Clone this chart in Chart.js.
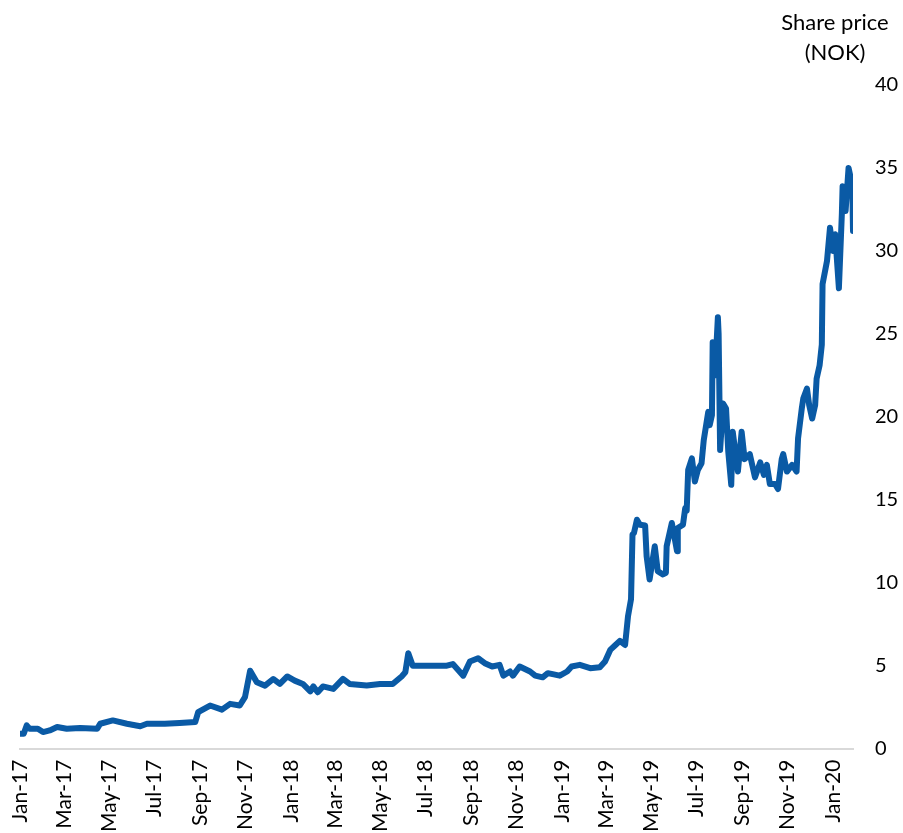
<!DOCTYPE html>
<html>
<head>
<meta charset="utf-8">
<script src="https://cdn.jsdelivr.net/npm/chart.js@4/dist/chart.umd.min.js"></script>
<style>
  html, body { margin: 0; padding: 0; background: #fff; overflow: hidden; }
  #wrap { position: relative; width: 903px; height: 843px; }
</style>
</head>
<body>
<div id="wrap"><canvas id="myChart"></canvas></div>
<script>
// share price
const dates = [
  '2017-01-02','2017-01-06','2017-01-10','2017-01-14','2017-01-25','2017-02-01','2017-02-10','2017-02-20',
  '2017-03-05','2017-03-23','2017-04-15','2017-04-19','2017-05-06','2017-05-25','2017-06-12','2017-06-21',
  '2017-07-15','2017-08-04','2017-08-25','2017-08-29','2017-09-14','2017-09-30','2017-10-11','2017-10-24',
  '2017-10-31','2017-11-07','2017-11-16','2017-11-27','2017-12-08','2017-12-17','2017-12-27',
  '2018-01-06','2018-01-17','2018-01-27','2018-01-31','2018-02-06','2018-02-13','2018-02-27','2018-03-12',
  '2018-03-21','2018-04-13','2018-05-01','2018-05-18','2018-05-30','2018-06-04','2018-06-08','2018-06-14',
  '2018-07-07','2018-07-30','2018-08-07','2018-08-21','2018-08-30','2018-09-10','2018-09-19','2018-09-29',
  '2018-10-09','2018-10-14','2018-10-23','2018-10-27','2018-11-05','2018-11-19','2018-11-26','2018-12-06',
  '2018-12-13','2018-12-29',
  '2019-01-08','2019-01-14','2019-01-25','2019-02-08','2019-02-21','2019-02-28','2019-03-07','2019-03-13',
  '2019-03-20','2019-03-27','2019-03-31','2019-04-04','2019-04-06','2019-04-08','2019-04-12','2019-04-16',
  '2019-04-23','2019-04-25','2019-04-29','2019-05-06','2019-05-10','2019-05-17','2019-05-21','2019-05-22',
  '2019-05-29','2019-06-05','2019-06-06','2019-06-13','2019-06-16','2019-06-18','2019-06-20','2019-06-25',
  '2019-06-29','2019-07-03','2019-07-08','2019-07-11','2019-07-17','2019-07-19','2019-07-22','2019-07-23',
  '2019-07-26','2019-07-30','2019-07-31','2019-08-02','2019-08-06','2019-08-10','2019-08-13','2019-08-17',
  '2019-08-19','2019-08-26','2019-08-31','2019-09-04','2019-09-11','2019-09-18','2019-09-25','2019-09-30',
  '2019-10-04','2019-10-08','2019-10-15','2019-10-19','2019-10-24','2019-10-26','2019-10-31','2019-11-07',
  '2019-11-13','2019-11-15','2019-11-20','2019-11-22','2019-11-27','2019-11-30','2019-12-04','2019-12-08',
  '2019-12-10','2019-12-14','2019-12-17','2019-12-18','2019-12-24','2019-12-28',
  '2020-01-01','2020-01-04','2020-01-09','2020-01-13','2020-01-14','2020-01-18','2020-01-22','2020-01-27',
  '2020-01-28'
];
const prices = [
  0.9, 0.9, 1.4, 1.2, 1.2, 1.0, 1.1, 1.3,
  1.2, 1.25, 1.2, 1.5, 1.7, 1.5, 1.35, 1.5,
  1.5, 1.55, 1.6, 2.2, 2.6, 2.35, 2.7, 2.6,
  3.1, 4.7, 4.0, 3.8, 4.2, 3.9, 4.35,
  4.1, 3.9, 3.45, 3.75, 3.4, 3.75, 3.6, 4.2,
  3.9, 3.8, 3.9, 3.9, 4.35, 4.6, 5.75, 5.0,
  5.0, 5.0, 5.1, 4.4, 5.25, 5.45, 5.15, 4.95,
  5.05, 4.4, 4.65, 4.4, 4.95, 4.65, 4.4, 4.3,
  4.55, 4.4,
  4.65, 4.95, 5.05, 4.85, 4.9, 5.25, 5.95, 6.2,
  6.5, 6.25, 8.0, 9.0, 12.9, 13.0, 13.8, 13.5,
  13.45, 11.6, 10.2, 12.2, 10.7, 10.5, 10.6, 12.2,
  13.6, 11.9, 13.3, 13.5, 14.5, 14.35, 16.8, 17.5,
  16.1, 16.8, 17.2, 18.6, 20.3, 19.5, 20.1, 24.5,
  22.5, 26.0, 25.0, 18.0, 20.8, 20.5, 17.9, 15.9,
  19.1, 16.7, 19.1, 17.45, 17.75, 16.35, 17.25, 16.5,
  17.1, 15.95, 15.95, 15.65, 17.45, 17.75, 16.7, 17.1,
  16.7, 18.7, 20.5, 21.1, 21.7, 20.7, 19.9, 20.7,
  22.3, 23.1, 24.35, 28.0, 29.4, 31.4,
  30.0, 31.0, 27.75, 32.25, 33.9, 32.4, 35.0, 34.0,
  31.2
];
const tickDates = [
  '2017-01-01','2017-03-01','2017-05-01','2017-07-01','2017-09-01','2017-11-01',
  '2018-01-01','2018-03-01','2018-05-01','2018-07-01','2018-09-01','2018-11-01',
  '2019-01-01','2019-03-01','2019-05-01','2019-07-01','2019-09-01','2019-11-01',
  '2020-01-01'
];
const tickLabels = [
  'Jan-17','Mar-17','May-17','Jul-17','Sep-17','Nov-17',
  'Jan-18','Mar-18','May-18','Jul-18','Sep-18','Nov-18',
  'Jan-19','Mar-19','May-19','Jul-19','Sep-19','Nov-19',
  'Jan-20'
];
const titleLines = ['Share price', '(NOK)'];

const base = Date.UTC(2017, 0, 1);
function dayNum(s) {
  const p = s.split('-').map(Number);
  return (Date.UTC(p[0], p[1] - 1, p[2]) - base) / 86400000;
}

const FONT = 'Lato, "Open Sans", sans-serif';

// draws the unit label above the right axis
const unitLabel = {
  id: 'unitLabel',
  afterDraw(chart) {
    const ctx = chart.ctx;
    const x = chart.chartArea.right - 18;
    ctx.save();
    ctx.font = '22px ' + FONT;
    ctx.fillStyle = '#000';
    ctx.textAlign = 'center';
    ctx.textBaseline = 'middle';
    ctx.fillText(titleLines[0], x, 23);
    ctx.fillText(titleLines[1], x, 53);
    ctx.restore();
  }
};

var ctx = document.getElementById('myChart').getContext('2d');
var chart = new Chart(ctx, {
  type: 'line',
  data: {
    datasets: [{
      label: 'Share price (NOK)',
      data: dates.map((d, i) => ({x: dayNum(d), y: prices[i]})),
      borderColor: '#0a5aa5',
      borderWidth: 6,
      borderJoinStyle: 'round',
      borderCapStyle: 'round',
      pointRadius: 0,
      tension: 0,
      fill: false
    }]
  },
  options: {
    responsive: true,
    maintainAspectRatio: false,
    animation: false,
    layout: { padding: { top: 85, right: 0, left: 20, bottom: 0 } },
    plugins: { legend: { display: false }, tooltip: { enabled: false } },
    scales: {
      x: {
        type: 'linear',
        min: 0,
        max: dayNum(dates[dates.length - 1]),
        afterBuildTicks: (scale) => { scale.ticks = tickDates.map(d => ({value: dayNum(d)})); },
        ticks: {
          autoSkip: false,
          minRotation: 90,
          maxRotation: 90,
          padding: 11,
          color: '#000',
          font: { family: FONT, size: 21 },
          callback: (v, i) => tickLabels[i]
        },
        grid: { display: false, drawTicks: false },
        border: { display: true, color: '#d9d9d9', width: 2 }
      },
      y: {
        position: 'right',
        min: 0,
        max: 40,
        afterFit: (scale) => { scale.width = 50; },
        ticks: {
          stepSize: 5,
          padding: 22,
          color: '#000',
          font: { family: FONT, size: 20 }
        },
        grid: { display: false, drawTicks: false },
        border: { display: false }
      }
    }
  },
  plugins: [unitLabel]
});
</script>
</body>
</html>
